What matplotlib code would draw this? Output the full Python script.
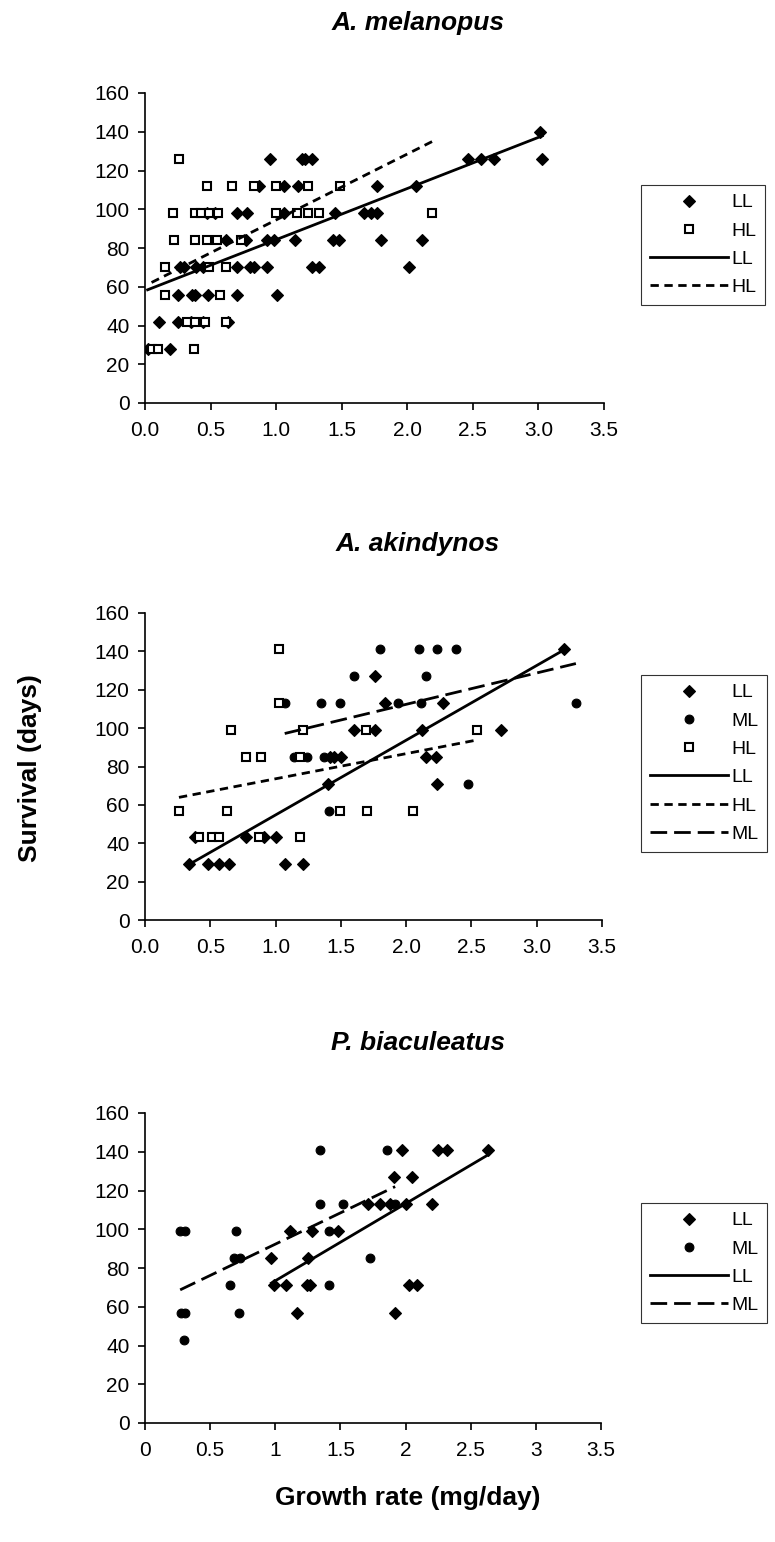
import numpy as np
import matplotlib.pyplot as plt
from matplotlib.lines import Line2D

plt.rcParams['font.family'] = ['Liberation Sans', 'DejaVu Sans']

# ---- A. melanopus ----
mel_ll_x = [0.95, 1.20, 1.22, 1.27, 2.46, 2.56, 2.66, 3.03, 3.01,
            0.87, 1.06, 1.17, 1.77, 2.07,
            0.47, 0.53, 0.70, 0.78, 1.06, 1.45, 1.67, 1.72, 1.77,
            0.62, 0.77, 0.93, 0.98, 1.14, 1.43, 1.48, 1.80, 2.11,
            0.27, 0.30, 0.39, 0.44, 0.70, 0.80, 0.83, 0.93, 1.27, 1.33, 2.01,
            0.25, 0.36, 0.38, 0.48, 0.70, 1.01,
            0.11, 0.25, 0.35, 0.44, 0.63,
            0.02, 0.19]
mel_ll_y = [126, 126, 126, 126, 126, 126, 126, 126, 140,
            112, 112, 112, 112, 112,
            98, 98, 98, 98, 98, 98, 98, 98, 98,
            84, 84, 84, 84, 84, 84, 84, 84, 84,
            70, 70, 70, 70, 70, 70, 70, 70, 70, 70, 70,
            56, 56, 56, 56, 56, 56,
            42, 42, 42, 42, 42,
            28, 28]
mel_hl_x = [0.26,
            0.47, 0.66, 0.83, 1.00, 1.24, 1.49,
            0.21, 0.38, 0.43, 0.49, 0.56, 1.00, 1.16, 1.24, 1.33, 2.19,
            0.22, 0.38, 0.47, 0.55, 0.73,
            0.15, 0.49, 0.62,
            0.15, 0.57,
            0.32, 0.38, 0.46, 0.62,
            0.05, 0.10, 0.37]
mel_hl_y = [126,
            112, 112, 112, 112, 112, 112,
            98, 98, 98, 98, 98, 98, 98, 98, 98, 98,
            84, 84, 84, 84, 84,
            70, 70, 70,
            56, 56,
            42, 42, 42, 42,
            28, 28, 28]

# ---- A. akindynos ----
aki_ll_x = [3.21, 1.76, 1.84, 2.28, 1.60, 1.76, 2.12, 2.73,
            1.42, 1.45, 1.50, 2.15, 2.23, 1.40, 2.24,
            0.38, 0.77, 0.91, 1.00,
            0.34, 0.48, 0.57, 0.64, 1.07, 1.21]
aki_ll_y = [141, 127, 113, 113, 99, 99, 99, 99,
            85, 85, 85, 85, 85, 71, 71,
            43, 43, 43, 43,
            29, 29, 29, 29, 29, 29]
aki_ml_x = [1.80, 2.10, 2.24, 2.38, 1.60, 2.15,
            1.07, 1.35, 1.49, 1.94, 2.11, 3.30,
            1.14, 1.24, 1.37, 2.47, 1.41]
aki_ml_y = [141, 141, 141, 141, 127, 127,
            113, 113, 113, 113, 113, 113,
            85, 85, 85, 71, 57]
aki_hl_x = [1.03, 1.03, 0.66, 1.21, 1.69, 2.54, 0.77, 0.89, 1.19,
            0.26, 0.63, 1.49, 1.70, 2.05,
            0.41, 0.51, 0.57, 0.87, 1.19]
aki_hl_y = [141, 113, 99, 99, 99, 99, 85, 85, 85,
            57, 57, 57, 57, 57,
            43, 43, 43, 43, 43]

# ---- P. biaculeatus ----
bia_ll_x = [1.97, 2.25, 2.32, 2.63, 1.91, 2.05,
            1.71, 1.80, 1.88, 2.00, 2.20,
            1.11, 1.28, 1.48, 0.97, 1.25,
            0.99, 1.08, 1.24, 1.27, 2.03, 2.09,
            1.17, 1.92]
bia_ll_y = [141, 141, 141, 141, 127, 127,
            113, 113, 113, 113, 113,
            99, 99, 99, 85, 85,
            71, 71, 71, 71, 71, 71,
            57, 57]
bia_ml_x = [1.34, 1.86, 1.34, 1.52, 1.92,
            0.27, 0.31, 0.70, 1.41, 0.68, 0.73, 1.73,
            0.65, 1.41, 0.28, 0.31, 0.72, 0.30]
bia_ml_y = [141, 141, 113, 113, 113,
            99, 99, 99, 99, 85, 85, 85,
            71, 71, 57, 57, 57, 43]

# trend lines (slope, intercept)
mel_trend = {'LL': (26.4, 57.9), 'HL': (34.0, 60.5)}
aki_trend = {'LL': (38.95, 15.8), 'HL': (13.1, 60.5), 'ML': (16.35, 79.7)}
bia_trend = {'LL': (39.8, 33.6), 'ML': (32.3, 60.0)}

titles = ['A. melanopus', 'A. akindynos', 'P. biaculeatus']
y_ticks = [0, 20, 40, 60, 80, 100, 120, 140, 160]
x_ticks = [0, 0.5, 1.0, 1.5, 2.0, 2.5, 3.0, 3.5]
x_labels_a = ['0.0', '0.5', '1.0', '1.5', '2.0', '2.5', '3.0', '3.5']
x_labels_b = ['0', '0.5', '1', '1.5', '2', '2.5', '3', '3.5']

W, H = 775, 1542
fig = plt.figure(figsize=(W / 100, H / 100), dpi=100)

mstyle = {
    'LL': dict(marker='D', ms=6.2, mfc='black', mec='black', mew=0.8),
    'ML': dict(marker='o', ms=6.3, mfc='black', mec='black', mew=0.8),
    'HL': dict(marker='s', ms=5.8, mfc='white', mec='black', mew=1.5),
}
lstyle = {
    'LL': dict(ls='-'),
    'HL': dict(ls=(0, (3, 2))),
    'ML': dict(ls=(0, (6, 2.5))),
}


def panel(rect, title, series, trends, xlabels, leg_top, title_y):
    ax = fig.add_axes([rect[0] / W, 1 - rect[3] / H, (rect[2] - rect[0]) / W, (rect[3] - rect[1]) / H])
    for name, x, y in series:
        ax.plot(x, y, ls='none', zorder=3, **mstyle[name])
    handles = [Line2D([], [], ls='none', **mstyle[n]) for n, _, _ in series]
    labels = [n for n, _, _ in series]
    for name in trends:
        x = [s[1] for s in series if s[0] == name][0]
        slope, icpt = trends[name]
        xx = np.array([min(x), max(x)])
        ax.plot(xx, slope * xx + icpt, color='black', lw=2, zorder=4, **lstyle[name])
        handles.append(Line2D([], [], color='black', lw=2, **lstyle[name]))
        labels.append(name)
    ax.set_xlim(0, 3.5)
    ax.set_ylim(0, 160)
    ax.set_xticks(x_ticks)
    ax.set_xticklabels(xlabels)
    ax.set_yticks(y_ticks)
    for s in ['top', 'right']:
        ax.spines[s].set_visible(False)
    for s in ['left', 'bottom']:
        ax.spines[s].set_linewidth(1.2)
    ax.tick_params(direction='out', length=5, width=1.2, labelsize=15, pad=6)
    ax.tick_params(axis='x', pad=8)
    leg = ax.legend(handles, labels, loc='upper left', bbox_to_anchor=(641 / W, 1 - leg_top / H),
                    bbox_transform=fig.transFigure, fontsize=14, frameon=True, fancybox=False,
                    edgecolor='black', handlelength=4.0, handletextpad=0.2, labelspacing=0.55,
                    borderpad=0.45, borderaxespad=0)
    leg.get_frame().set_linewidth(0.8)
    fig.text(418 / W, 1 - title_y / H, title, ha='center', va='center', fontsize=19,
             fontweight='bold', fontstyle='italic')
    return ax


panel((145, 93, 604, 403), titles[0],
      [('LL', mel_ll_x, mel_ll_y), ('HL', mel_hl_x, mel_hl_y)],
      mel_trend, x_labels_a, 185, 23)
panel((145, 613, 602, 920), titles[1],
      [('LL', aki_ll_x, aki_ll_y), ('ML', aki_ml_x, aki_ml_y), ('HL', aki_hl_x, aki_hl_y)],
      {'LL': aki_trend['LL'], 'HL': aki_trend['HL'], 'ML': aki_trend['ML']},
      x_labels_a, 675, 544)
panel((145, 1113, 601, 1423), titles[2],
      [('LL', bia_ll_x, bia_ll_y), ('ML', bia_ml_x, bia_ml_y)],
      bia_trend, x_labels_b, 1203, 1043)

fig.text(30 / W, 1 - 768 / H, 'Survival (days)', rotation=90, ha='center', va='center',
         fontsize=19, fontweight='bold')
fig.text(408 / W, 1 - 1498 / H, 'Growth rate (mg/day)', ha='center', va='center',
         fontsize=19, fontweight='bold')

fig.savefig('out.png', dpi=100, facecolor='white')
